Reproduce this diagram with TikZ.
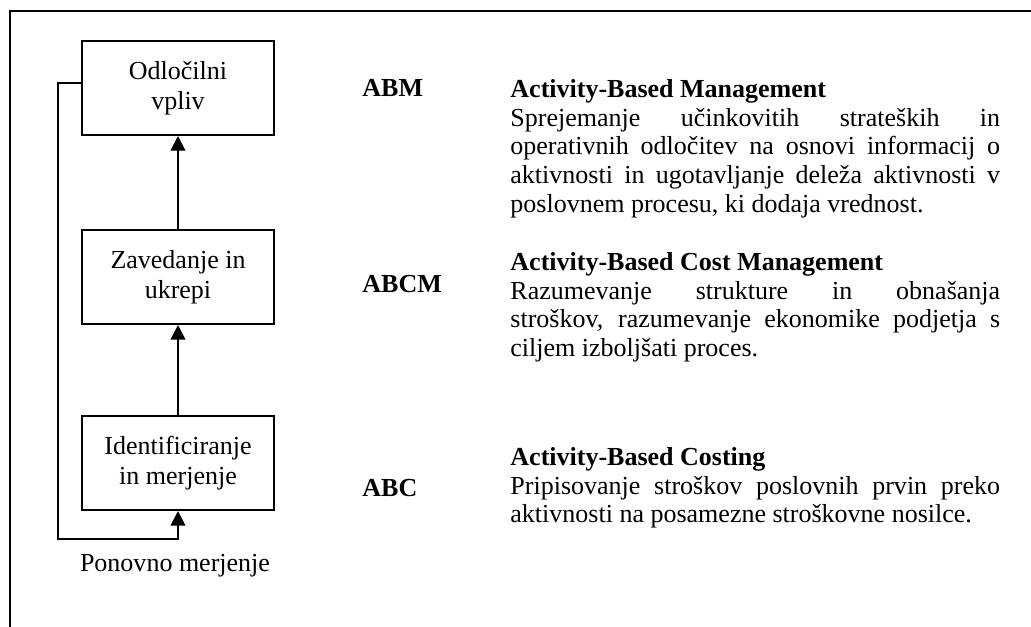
\documentclass[tikz,border=0pt]{standalone}
\usepackage{fontspec}
\setmainfont{Liberation Serif}
\usetikzlibrary{arrows.meta}
\hyphenpenalty=10000
\exhyphenpenalty=10000

\begin{document}
\begin{tikzpicture}[x=0.4615pt, y=-0.4615pt, >={Triangle[width=6.8pt,length=6.8pt]},
  font=\fontsize{12}{13.85}\selectfont,
  stage/.style={draw, line width=0.9pt, minimum width=89pt, minimum height=43.4pt, align=center, inner sep=0pt},
  conn/.style={->, line width=0.9pt},
  tag/.style={anchor=base west, inner sep=0pt, font=\fontsize{12}{13.25}\selectfont\bfseries},
  desc/.style={anchor=north west, text width=226pt, align=justify, inner sep=0pt, font=\fontsize{12}{13.25}\selectfont}]
\useasboundingbox (0,0) rectangle (1031,627);
% frame
\draw[line width=1pt] (1031,11) -- (10,11) -- (10,627);
% left: the three steps
\node[stage] (odl) at (178,88) {Odločilni\\vpliv};
\node[stage] (zav) at (178,277) {Zavedanje in\\ukrepi};
\node[stage] (ide) at (178,463) {Identificiranje\\in merjenje};
\coordinate (turn) at (58,539);
\node (rep) at (175,566) {Ponovno merjenje};
\draw[conn] (ide.north) -- (zav.south);
\draw[conn] (zav.north) -- (odl.south);
\draw[conn] ([yshift=2.3pt]odl.west) -| (turn) -| (ide.south);
% right: the three levels
\node[tag] (abm) at (362,97) {ABM};
\node[tag] (abcm) at (362,292) {ABCM};
\node[tag] (abc) at (362,496) {ABC};
\node[desc] (abmtxt) at (510,79) {\textbf{Activity-Based Management}\\
  Sprejemanje učinkovitih strateških in\linebreak operativnih odločitev na osnovi informacij o\linebreak aktivnosti in ugotavljanje deleža aktivnosti v\linebreak poslovnem procesu, ki dodaja vrednost.};
\node[desc] (abcmtxt) at (510,252) {\textbf{Activity-Based Cost Management}\\
  Razumevanje strukture in obnašanja\linebreak stroškov, razumevanje ekonomike podjetja s\linebreak ciljem izboljšati proces.};
\node[desc] (abctxt) at (510,447) {\textbf{Activity-Based Costing}\\
  Pripisovanje stroškov poslovnih prvin preko\linebreak aktivnosti na posamezne stroškovne nosilce.};
\end{tikzpicture}
\end{document}
